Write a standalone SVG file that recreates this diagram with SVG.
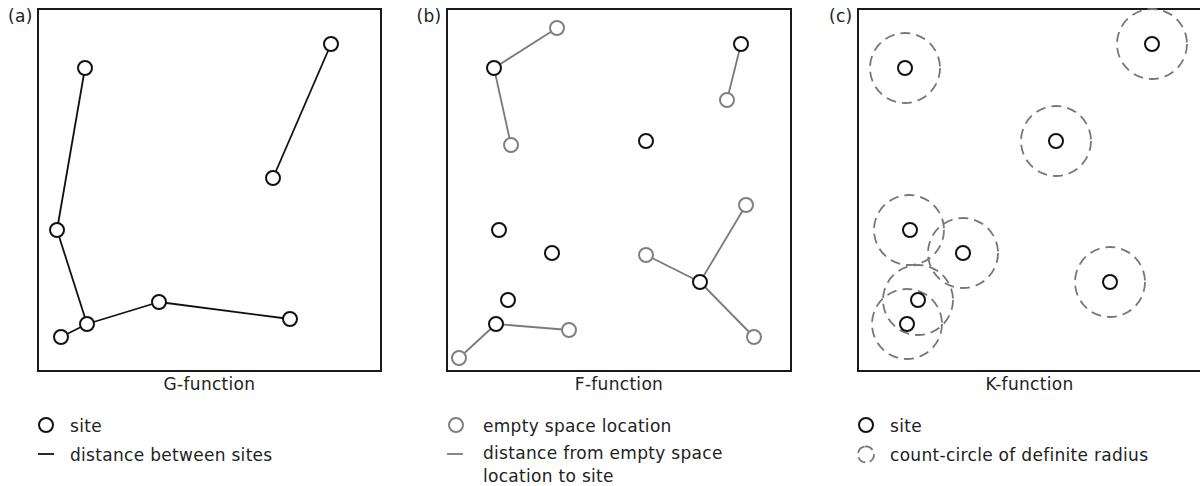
<svg xmlns="http://www.w3.org/2000/svg" width="1200" height="486" viewBox="0 0 1200 486">
<style>
text{font-family:"DejaVu Sans","Liberation Sans",sans-serif;font-size:17px;fill:#222;letter-spacing:0.3px}
.title{text-anchor:middle}
.frame{fill:none;stroke:#1a1a1a;stroke-width:2}
.site{fill:#fff;stroke:#111;stroke-width:2}
.empty{fill:#fff;stroke:#808080;stroke-width:2}
.ring{fill:none;stroke:#777;stroke-width:1.8;stroke-dasharray:10 6}
.ringS{fill:none;stroke:#777;stroke-width:1.8;stroke-dasharray:9 4.5}
.lk{stroke:#111;stroke-width:1.8;fill:none}
.lg{stroke:#7a7a7a;stroke-width:1.8;fill:none}
</style>
<rect width="1200" height="486" fill="#fff"/>

<!-- Panel frames and labels -->
<g id="panel-a-frame"><rect class="frame" x="38" y="9" width="343" height="362"/><text x="8" y="21.5">(a)</text><text class="title" x="209.5" y="390">G-function</text></g>
<g id="panel-b-frame"><rect class="frame" x="447" y="9" width="344" height="362"/><text x="416.5" y="21.5">(b)</text><text class="title" x="619" y="390">F-function</text></g>
<g id="panel-c-frame"><rect class="frame" x="858" y="9" width="343" height="362"/><text x="829" y="21.5">(c)</text><text class="title" x="1029.5" y="390">K-function</text></g>

<!-- Connectors -->
<g id="connectors">
<line class="lk" x1="85" y1="68" x2="57" y2="230"/>
<line class="lk" x1="57" y1="230" x2="87" y2="324"/>
<line class="lk" x1="61" y1="337" x2="87" y2="324"/>
<line class="lk" x1="87" y1="324" x2="159" y2="302"/>
<line class="lk" x1="159" y1="302" x2="290" y2="319"/>
<line class="lk" x1="273" y1="178" x2="331" y2="44"/>
<line class="lg" x1="494" y1="68" x2="557" y2="28"/>
<line class="lg" x1="494" y1="68" x2="511" y2="145"/>
<line class="lg" x1="741" y1="44" x2="727" y2="100"/>
<line class="lg" x1="700" y1="282" x2="746" y2="205"/>
<line class="lg" x1="700" y1="282" x2="646" y2="255"/>
<line class="lg" x1="700" y1="282" x2="754" y2="337"/>
<line class="lg" x1="496" y1="324" x2="569" y2="330"/>
<line class="lg" x1="496" y1="324" x2="459" y2="358"/>
</g>

<!-- Panel (a) sites -->
<g id="a-site-1"><circle class="site" cx="85" cy="68" r="7"/></g>
<g id="a-site-2"><circle class="site" cx="331" cy="44" r="7"/></g>
<g id="a-site-3"><circle class="site" cx="273" cy="178" r="7"/></g>
<g id="a-site-4"><circle class="site" cx="57" cy="230" r="7"/></g>
<g id="a-site-5"><circle class="site" cx="87" cy="324" r="7"/></g>
<g id="a-site-6"><circle class="site" cx="159" cy="302" r="7"/></g>
<g id="a-site-7"><circle class="site" cx="290" cy="319" r="7"/></g>
<g id="a-site-8"><circle class="site" cx="61" cy="337" r="7"/></g>

<!-- Panel (b) sites -->
<g id="b-site-1"><circle class="site" cx="494" cy="68" r="7"/></g>
<g id="b-site-2"><circle class="site" cx="741" cy="44" r="7"/></g>
<g id="b-site-3"><circle class="site" cx="646" cy="141" r="7"/></g>
<g id="b-site-4"><circle class="site" cx="499" cy="230" r="7"/></g>
<g id="b-site-5"><circle class="site" cx="552" cy="253" r="7"/></g>
<g id="b-site-6"><circle class="site" cx="700" cy="282" r="7"/></g>
<g id="b-site-7"><circle class="site" cx="508" cy="300" r="7"/></g>
<g id="b-site-8"><circle class="site" cx="496" cy="324" r="7"/></g>
<!-- Panel (b) empty space locations -->
<g id="b-empty-1"><circle class="empty" cx="557" cy="28" r="7"/></g>
<g id="b-empty-2"><circle class="empty" cx="511" cy="145" r="7"/></g>
<g id="b-empty-3"><circle class="empty" cx="727" cy="100" r="7"/></g>
<g id="b-empty-4"><circle class="empty" cx="746" cy="205" r="7"/></g>
<g id="b-empty-5"><circle class="empty" cx="646" cy="255" r="7"/></g>
<g id="b-empty-6"><circle class="empty" cx="754" cy="337" r="7"/></g>
<g id="b-empty-7"><circle class="empty" cx="569" cy="330" r="7"/></g>
<g id="b-empty-8"><circle class="empty" cx="459" cy="358" r="7"/></g>

<!-- Panel (c) count circles -->
<g id="c-rings">
<circle class="ring" cx="905" cy="68" r="35"/>
<circle class="ring" cx="1152" cy="44" r="35"/>
<circle class="ring" cx="1056" cy="141" r="35"/>
<circle class="ring" cx="909" cy="230" r="35"/>
<circle class="ring" cx="963" cy="253" r="35"/>
<circle class="ring" cx="1110" cy="282" r="35"/>
<circle class="ring" cx="918" cy="300" r="35"/>
<circle class="ring" cx="907" cy="324" r="35"/>
</g>
<!-- Panel (c) sites -->
<g id="c-site-1"><circle class="site" cx="905" cy="68" r="7"/></g>
<g id="c-site-2"><circle class="site" cx="1152" cy="44" r="7"/></g>
<g id="c-site-3"><circle class="site" cx="1056" cy="141" r="7"/></g>
<g id="c-site-4"><circle class="site" cx="910" cy="230" r="7"/></g>
<g id="c-site-5"><circle class="site" cx="963" cy="253" r="7"/></g>
<g id="c-site-6"><circle class="site" cx="1110" cy="282" r="7"/></g>
<g id="c-site-7"><circle class="site" cx="918" cy="300" r="7"/></g>
<g id="c-site-8"><circle class="site" cx="907" cy="324" r="7"/></g>

<!-- Legends -->
<g id="legend-a">
<circle class="site" cx="46" cy="425" r="7"/><text x="70" y="431.5">site</text>
<line class="lk" x1="38" y1="454" x2="54" y2="454"/><text x="70" y="460.5">distance between sites</text>
</g>
<g id="legend-b">
<circle class="empty" cx="456" cy="425" r="7"/><text x="483" y="431.5">empty space location</text>
<line class="lg" x1="447" y1="454" x2="463" y2="454"/><text x="483" y="459">distance from empty space</text>
<text x="483" y="481.5">location to site</text>
</g>
<g id="legend-c">
<circle class="site" cx="866" cy="425" r="7"/><text x="890" y="431.5">site</text>
<circle class="ringS" cx="866" cy="454.5" r="8" transform="rotate(-100 866 454.5)"/><text x="890" y="460.5">count-circle of definite radius</text>
</g>
</svg>
